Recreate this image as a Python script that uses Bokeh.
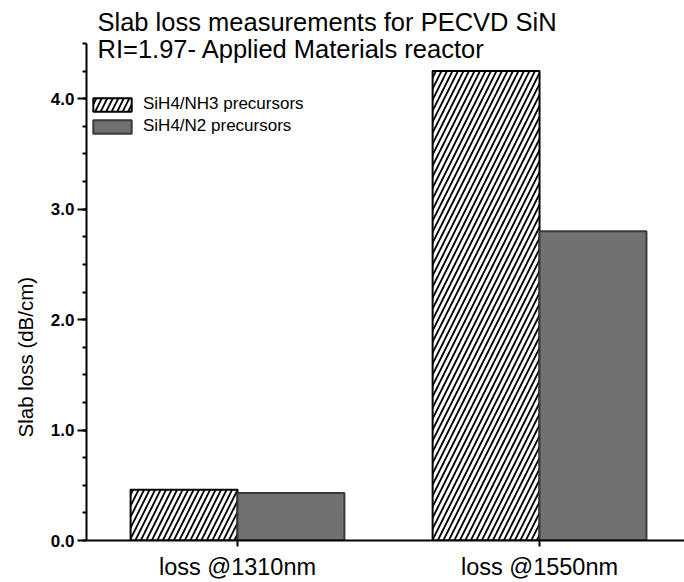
import math
from bokeh.plotting import figure
from bokeh.models import Range1d, FixedTicker, Label, Legend, LegendItem, ColumnDataSource, Title
from bokeh.transform import dodge
from bokeh.embed import file_html
from bokeh.resources import INLINE

categories = ["loss @1310nm", "loss @1550nm"]
nh3_loss = [0.46, 4.25]
n2_loss = [0.43, 2.80]
series_names = ["SiH4/NH3 precursors", "SiH4/N2 precursors"]
y_ticks = [0, 1, 2, 3, 4]
y_tick_labels = ["0.0", "1.0", "2.0", "3.0", "4.0"]
y_axis_top = 4.5

FONT = "Liberation Sans"

xs = [i + 1 for i in range(len(categories))]
src = ColumnDataSource(dict(x=xs, nh3=nh3_loss, n2=n2_loss))

# frame reaches the top of the canvas so the title labels are not clipped;
# the axis itself stops at 4.5 (bounds)
p = figure(width=684, height=582, output_backend="svg", toolbar_location=None,
           x_range=Range1d(0.5, 2.48), y_range=Range1d(0, y_axis_top * 540 / 497),
           min_border_left=86, min_border_right=0, min_border_top=0, min_border_bottom=42)
p.outline_line_color = None
p.xgrid.visible = False
p.ygrid.visible = False
p.background_fill_color = "white"
p.border_fill_color = "white"

bw = 0.354
r1 = p.vbar(x=dodge("x", -bw / 2), top="nh3", width=bw, source=src,
            fill_color="white", line_color="black", line_width=2,
            hatch_pattern="/", hatch_color="black", hatch_weight=1.8, hatch_scale=11)
r2 = p.vbar(x=dodge("x", bw / 2), top="n2", width=bw, source=src,
            fill_color="#717171", line_color="#3a3a3a", line_width=2)

legend = Legend(items=[LegendItem(label=series_names[0], renderers=[r1]),
                       LegendItem(label=series_names[1], renderers=[r2])],
                location=(2, 404), border_line_color=None, background_fill_alpha=0,
                glyph_width=48, glyph_height=17, label_text_font=FONT,
                label_text_font_size="17px", label_text_color="black",
                label_standoff=7, spacing=2, padding=0, label_height=17, margin=0)
p.add_layout(legend)

# y axis
yax = p.yaxis[0]
yax.bounds = (0, y_axis_top)
yax.ticker = FixedTicker(ticks=y_ticks, minor_ticks=[i * 0.25 for i in range(19)])
yax.major_label_overrides = {t: l for t, l in zip(y_ticks, y_tick_labels)}
yax.major_label_text_font = FONT
yax.major_label_text_font_style = "bold"
yax.major_label_text_font_size = "17px"
yax.major_label_text_color = "black"
yax.axis_line_width = 2
yax.axis_line_color = "black"
yax.major_tick_out = 9
yax.major_tick_in = 0
yax.minor_tick_out = 4
yax.minor_tick_in = 0
yax.major_tick_line_width = 2
yax.minor_tick_line_width = 2
yax.major_label_standoff = 3

# y axis title as a side title so it can sit off-centre like the reference
p.add_layout(Title(text="Slab loss (dB/cm)", align="left", offset=103, standoff=21,
                   text_font=FONT, text_font_size="20.5px", text_font_style="normal",
                   text_color="black"), "left")

# x axis
xax = p.xaxis[0]
xax.ticker = FixedTicker(ticks=xs, minor_ticks=[])
xax.major_label_overrides = {x: c for x, c in zip(xs, categories)}
xax.major_label_text_font = FONT
xax.major_label_text_font_size = "23.5px"
xax.major_label_text_color = "black"
xax.axis_line_width = 2
xax.axis_line_color = "black"
xax.major_tick_out = 6
xax.major_tick_in = 0
xax.major_tick_line_width = 2
xax.major_label_standoff = 7

title_lines = ["Slab loss measurements for PECVD SiN", "RI=1.97- Applied Materials reactor"]
for i, t in enumerate(title_lines):
    p.add_layout(Label(x=11, y=519 - i * 27, x_units="screen", y_units="screen",
                       text=t, text_font=FONT, text_font_size="25.5px", text_color="black",
                       text_baseline="alphabetic"))

open("out.html", "w").write(file_html(p, INLINE))
